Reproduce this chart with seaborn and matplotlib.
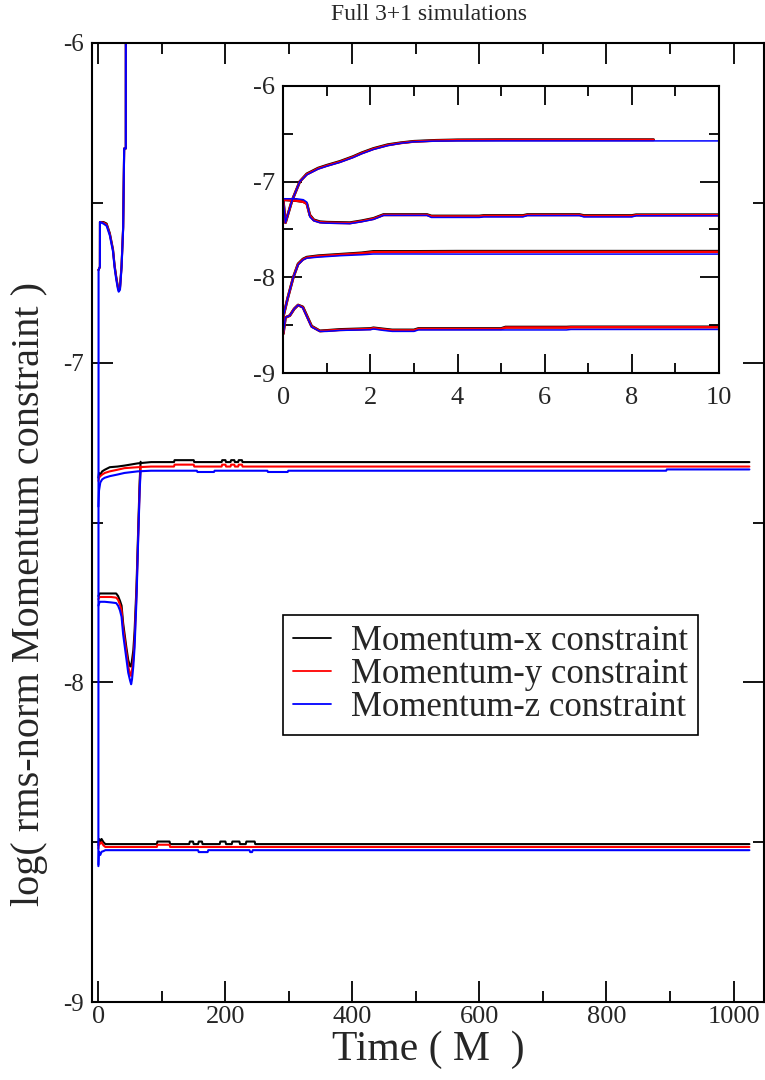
import numpy as np
import pandas as pd
import matplotlib
matplotlib.use("Agg")
import matplotlib.pyplot as plt
import seaborn as sns
from matplotlib.ticker import MultipleLocator

# ---------------------------------------------------------------- labels
components = ["Momentum-x constraint", "Momentum-y constraint", "Momentum-z constraint"]
palette = ["#000000", "#ff0000", "#0000ff"]
title_text = "Full 3+1 simulations"
x_label = "Time ( M  )"
y_label = "log( rms-norm Momentum constraint )"

# ---------------------------------------------------------------- main panel data
# run 1 (blows up near t = 43)
m1_t = [0, 0.3, 2.4, 2.5, 8, 13, 18, 23, 25.5, 28, 31, 32, 34, 36.5, 39, 40.6, 43.2, 43.4]
m1_x = [-6.71, -6.71, -6.70, -6.56, -6.56, -6.565, -6.595, -6.645, -6.695, -6.73, -6.765, -6.77, -6.765, -6.695, -6.575, -6.33, -6.33, -4.0]
m1_y = [-6.71, -6.71, -6.70, -6.56, -6.562, -6.568, -6.598, -6.648, -6.698, -6.733, -6.768, -6.773, -6.768, -6.698, -6.578, -6.33, -6.33, -4.0]
m1_z = [-8.57, -6.71, -6.70, -6.56, -6.565, -6.572, -6.602, -6.652, -6.702, -6.738, -6.772, -6.778, -6.772, -6.702, -6.582, -6.33, -6.33, -4.0]

# run 2 (long, ~ -7.3)
m2_t = [0, 1, 3, 6, 10, 18, 30, 41, 62, 83, 119, 120, 150, 151, 155, 156, 182, 183,
        194, 195, 200, 201, 208, 209, 214, 215, 220, 221, 226, 227, 266, 267, 298, 299, 894, 895, 1025]
m2_x = [-7.36, -7.345, -7.35, -7.34, -7.335, -7.327, -7.325, -7.322, -7.315, -7.311, -7.311, -7.305, -7.305, -7.311,
        -7.311, -7.311, -7.311, -7.311, -7.311, -7.305, -7.305, -7.311, -7.311, -7.305, -7.305, -7.311, -7.311, -7.305,
        -7.305, -7.311, -7.311, -7.311, -7.311, -7.311, -7.311, -7.311, -7.311]
m2_y = [-7.37, -7.36, -7.355, -7.35, -7.345, -7.34, -7.335, -7.33, -7.327, -7.325, -7.325, -7.319, -7.319, -7.325,
        -7.325, -7.325, -7.325, -7.325, -7.325, -7.319, -7.319, -7.325, -7.325, -7.319, -7.319, -7.325, -7.325, -7.319,
        -7.319, -7.325, -7.325, -7.325, -7.325, -7.325, -7.325, -7.325, -7.325]
m2_z = [-7.45, -7.40, -7.375, -7.365, -7.36, -7.355, -7.35, -7.345, -7.34, -7.338, -7.338, -7.338, -7.338, -7.338,
        -7.338, -7.342, -7.342, -7.338, -7.338, -7.338, -7.338, -7.338, -7.338, -7.338, -7.338, -7.338, -7.338, -7.338,
        -7.338, -7.338, -7.338, -7.342, -7.342, -7.338, -7.338, -7.334, -7.334]

# run 3 (dips near t = 50, ends near t = 67)
m3_t = [0, 2, 10, 20, 28, 31, 34, 36.5, 39, 42, 44, 47, 50, 51.6, 53, 55, 57, 60, 62.7, 65, 66.5]
m3_x = [-7.73, -7.722, -7.722, -7.722, -7.722, -7.73, -7.745, -7.76, -7.815, -7.86, -7.89, -7.93, -7.95, -7.95,
        -7.93, -7.90, -7.84, -7.70, -7.52, -7.37, -7.31]
m3_y = [-7.74, -7.733, -7.733, -7.733, -7.735, -7.742, -7.757, -7.775, -7.83, -7.875, -7.905, -7.95, -7.975, -7.98,
        -7.96, -7.93, -7.87, -7.72, -7.54, -7.39, -7.325]
m3_z = [-7.76, -7.748, -7.748, -7.75, -7.752, -7.76, -7.775, -7.795, -7.85, -7.895, -7.925, -7.97, -7.995, -8.006,
        -7.99, -7.95, -7.89, -7.74, -7.55, -7.40, -7.34]

# run 4 (long, ~ -8.5)
m4_t = [0, 1, 3, 5, 8, 11, 92, 93, 112, 113, 143, 144, 149, 150, 157, 158, 163, 164, 172, 173,
        191, 192, 200, 201, 210, 211, 222, 223, 232, 233, 238, 239, 242, 243, 246, 247, 1025]
m4_x = [-8.51, -8.49, -8.495, -8.49, -8.50, -8.506, -8.506, -8.498, -8.498, -8.506, -8.506, -8.498, -8.498, -8.506,
        -8.506, -8.498, -8.498, -8.506, -8.506, -8.506, -8.506, -8.498, -8.498, -8.506, -8.506, -8.498, -8.498, -8.506,
        -8.506, -8.498, -8.498, -8.498, -8.498, -8.498, -8.498, -8.506, -8.506]
m4_y = [-8.52, -8.50, -8.505, -8.50, -8.51, -8.515, -8.515, -8.508, -8.508, -8.515, -8.515, -8.515, -8.515, -8.515,
        -8.515, -8.515, -8.515, -8.515, -8.515, -8.515, -8.515, -8.515, -8.515, -8.515, -8.515, -8.515, -8.515, -8.515,
        -8.515, -8.515, -8.515, -8.515, -8.515, -8.515, -8.515, -8.515, -8.515]
m4_z = [-8.575, -8.53, -8.54, -8.53, -8.528, -8.525, -8.525, -8.525, -8.525, -8.525, -8.525, -8.525, -8.525, -8.525,
        -8.525, -8.531, -8.531, -8.531, -8.531, -8.525, -8.525, -8.525, -8.525, -8.525, -8.525, -8.525, -8.525, -8.525,
        -8.525, -8.525, -8.525, -8.531, -8.531, -8.525, -8.525, -8.525, -8.525]

# ---------------------------------------------------------------- inset data (t = 0 .. 10)
iA_t = [0, 0.05, 0.2, 0.38, 0.54, 0.8, 1.0, 1.3, 1.6, 1.8, 2.07, 2.4, 2.7, 3.0, 3.5, 4.0, 5.0, 6.0, 7.0, 8.5, 8.51, 10]
iA_x = [-7.20, -7.43, -7.20, -7.00, -6.92, -6.86, -6.83, -6.79, -6.74, -6.70, -6.655, -6.615, -6.595, -6.58,
        -6.57, -6.565, -6.563, -6.563, -6.563, -6.563, np.nan, np.nan]
iA_y = [-7.20, -7.43, -7.20, -7.00, -6.925, -6.865, -6.835, -6.795, -6.745, -6.705, -6.66, -6.62, -6.598, -6.583,
        -6.573, -6.568, -6.566, -6.566, -6.566, -6.566, np.nan, np.nan]
iA_z = [-7.20, -7.43, -7.20, -7.00, -6.93, -6.87, -6.84, -6.80, -6.75, -6.71, -6.665, -6.625, -6.60, -6.585,
        -6.578, -6.576, -6.576, -6.576, -6.576, -6.576, -6.576, -6.576]

iB_t = [0, 0.3, 0.46, 0.54, 0.61, 0.7, 0.84, 1.0, 1.53, 1.8, 2.07, 2.3, 3.3, 3.4, 4.5, 4.6, 5.5, 5.6, 6.8, 6.9, 8.0, 8.1, 10]
iB_x = [-7.19, -7.20, -7.21, -7.23, -7.35, -7.40, -7.42, -7.425, -7.43, -7.41, -7.385, -7.345, -7.345, -7.36, -7.36,
        -7.355, -7.355, -7.345, -7.345, -7.355, -7.355, -7.347, -7.347]
iB_y = [-7.19, -7.20, -7.212, -7.232, -7.355, -7.405, -7.425, -7.43, -7.435, -7.415, -7.39, -7.35, -7.35, -7.365,
        -7.365, -7.36, -7.36, -7.35, -7.35, -7.36, -7.36, -7.352, -7.352]
iB_z = [-7.18, -7.18, -7.19, -7.215, -7.37, -7.41, -7.43, -7.435, -7.44, -7.42, -7.396, -7.354, -7.354, -7.375,
        -7.375, -7.37, -7.37, -7.356, -7.356, -7.37, -7.37, -7.358, -7.358]

iC_t = [0, 0.1, 0.23, 0.34, 0.45, 0.54, 0.8, 1.3, 1.8, 2.07, 3.0, 4.0, 10]
iC_x = [-8.41, -8.22, -8.00, -7.86, -7.81, -7.79, -7.775, -7.76, -7.745, -7.73, -7.73, -7.728, -7.728]
iC_y = [-8.41, -8.22, -8.00, -7.865, -7.815, -7.795, -7.78, -7.765, -7.75, -7.737, -7.737, -7.735, -7.735]
iC_z = [-8.41, -8.22, -8.00, -7.87, -7.82, -7.80, -7.79, -7.775, -7.765, -7.757, -7.757, -7.758, -7.758]

iD_t = [0, 0.05, 0.15, 0.25, 0.34, 0.45, 0.54, 0.65, 0.84, 1.0, 1.3, 2.0, 2.07, 2.3, 2.5, 3.0, 3.1, 5.0, 5.1, 6.5, 6.6, 10]
iD_x = [-8.59, -8.42, -8.40, -8.33, -8.29, -8.31, -8.40, -8.51, -8.56, -8.555, -8.545, -8.535, -8.528, -8.54, -8.55,
        -8.55, -8.535, -8.535, -8.52, -8.52, -8.518, -8.518]
iD_y = [-8.59, -8.42, -8.40, -8.33, -8.29, -8.315, -8.405, -8.515, -8.562, -8.558, -8.55, -8.54, -8.532, -8.545,
        -8.555, -8.555, -8.54, -8.54, -8.525, -8.525, -8.522, -8.522]
iD_z = [-8.59, -8.42, -8.40, -8.33, -8.29, -8.32, -8.41, -8.52, -8.565, -8.565, -8.555, -8.548, -8.54, -8.555,
        -8.565, -8.565, -8.55, -8.55, -8.55, -8.55, -8.545, -8.545]

main_runs = {"r1": (m1_t, [m1_x, m1_y, m1_z]), "r2": (m2_t, [m2_x, m2_y, m2_z]),
             "r3": (m3_t, [m3_x, m3_y, m3_z]), "r4": (m4_t, [m4_x, m4_y, m4_z])}
inset_runs = {"r1": (iA_t, [iA_x, iA_y, iA_z]), "r2": (iB_t, [iB_x, iB_y, iB_z]),
              "r3": (iC_t, [iC_x, iC_y, iC_z]), "r4": (iD_t, [iD_x, iD_y, iD_z])}


def long_form(runs):
    rows = []
    for comp_i, comp in enumerate(components):
        for run, (t, series) in runs.items():
            for ti, vi in zip(t, series[comp_i]):
                if np.isnan(vi):
                    continue
                rows.append((run, comp, ti, vi))
    return pd.DataFrame(rows, columns=["run", "component", "time", "value"])


df_main = long_form(main_runs)
df_inset = long_form(inset_runs)

# ---------------------------------------------------------------- style
sns.set_style("ticks")
plt.rcParams["font.family"] = ["Liberation Serif", "DejaVu Serif"]
plt.rcParams["axes.unicode_minus"] = False

fig = plt.figure(figsize=(7.65, 10.8), dpi=100)
ax = fig.add_axes([0.1203, 0.0722, 0.8784, 0.888])

sns.lineplot(data=df_main, x="time", y="value", hue="component", hue_order=components,
             units="run", estimator=None, sort=False, palette=palette, linewidth=1.5, ax=ax)

ax.set_xlim(-10, 1048)
ax.set_ylim(-9, -6)
ax.xaxis.set_major_locator(MultipleLocator(200))
ax.xaxis.set_minor_locator(MultipleLocator(100))
ax.yaxis.set_major_locator(MultipleLocator(1))
ax.yaxis.set_minor_locator(MultipleLocator(0.5))
ax.tick_params(which="both", direction="in", top=True, right=True, width=1.3, color="black")
ax.tick_params(which="major", length=15)
ax.tick_params(which="minor", length=8)
ax.tick_params(axis="x", labelsize=19, pad=3)
ax.tick_params(axis="y", labelsize=18, pad=6)
for s in ax.spines.values():
    s.set_linewidth(1.5)
    s.set_color("black")

ax.set_xlabel(x_label, fontsize=30, labelpad=2)
ax.set_ylabel(y_label, fontsize=29)
ax.yaxis.set_label_coords(-0.066, 0.425)
fig.text(0.561, 1 - 15 / 1080, title_text, ha="center", va="center", fontsize=17)

handles, labels = ax.get_legend_handles_labels()
leg = ax.legend(handles, labels, loc="upper left", bbox_to_anchor=(0.284, 0.4035), fontsize=25,
                frameon=True, fancybox=False, edgecolor="black", framealpha=1, handlelength=1.1,
                handletextpad=0.55, labelspacing=0.0, borderpad=0.3, borderaxespad=0)
leg.get_frame().set_linewidth(1.2)
for h in leg.get_lines():
    h.set_linewidth(1.3)

# ---------------------------------------------------------------- inset
axi = fig.add_axes([0.3703, 0.6546, 0.5695, 0.266])
sns.lineplot(data=df_inset, x="time", y="value", hue="component", hue_order=components,
             size="component", sizes={components[0]: 2.0, components[1]: 1.8, components[2]: 1.1},
             units="run", estimator=None, sort=False, palette=palette, ax=axi, legend=False)
axi.set_xlim(0, 10)
axi.set_ylim(-9, -6)
axi.xaxis.set_major_locator(MultipleLocator(2))
axi.xaxis.set_minor_locator(MultipleLocator(1))
axi.yaxis.set_major_locator(MultipleLocator(1))
axi.yaxis.set_minor_locator(MultipleLocator(0.5))
axi.tick_params(which="both", direction="in", top=True, right=True, width=1.3, color="black")
axi.tick_params(which="major", length=14)
axi.tick_params(which="minor", length=7)
axi.tick_params(axis="x", labelsize=19, pad=10)
axi.tick_params(axis="y", labelsize=19, pad=6)
axi.set_xlabel("")
axi.set_ylabel("")
for s in axi.spines.values():
    s.set_linewidth(1.5)
    s.set_color("black")

fig.savefig("out.png", dpi=100)
